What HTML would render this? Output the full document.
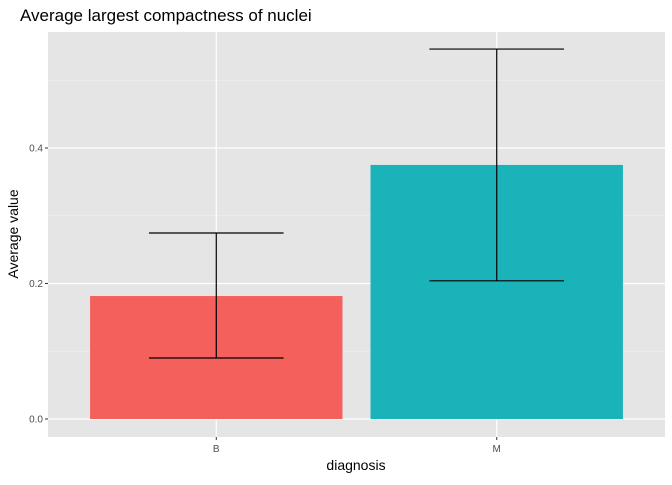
<!DOCTYPE html>
<html><head><meta charset="utf-8"><style>
body{margin:0;background:#fff;font-family:"Liberation Sans",Arial,sans-serif}
</style></head><body>
<svg id="chart" width="672" height="480" xmlns="http://www.w3.org/2000/svg">
<rect x="0" y="0" width="672" height="480" fill="#fff"/>
<text x="20" y="21" font-size="17" fill="#000">Average largest compactness of nuclei</text>
<rect x="48" y="32" width="617" height="405" fill="#e5e5e5"/>
<g id="grid"></g><g id="bars"></g><g id="errs"></g><g id="axes"></g>
<text x="356" y="470" font-size="14" text-anchor="middle" fill="#000">diagnosis</text>
<text transform="translate(18,234) rotate(-90)" font-size="14" text-anchor="middle" fill="#000">Average value</text>
</svg>
<script>
const categories=["B","M"];
const means=[0.1815,0.375];
const lowers=[0.090,0.204];
const uppers=[0.2745,0.546];
const colors=["#F4605C","#19B3B9"];
const yTicks=[0,0.2,0.4];
const yTickLabels=["0.0","0.2","0.4"];
const yMinor=[0.1,0.3,0.5];
const NS="http://www.w3.org/2000/svg";
const px0=48,px1=665,py0=437,py1=32;
function x(i){return px0+(i+1-0.4)/2.2*(px1-px0);}
const unit=(px1-px0)/2.2;
function y(v){return 419-v*677.5;}
function mk(t,a,p){const e=document.createElementNS(NS,t);for(const k in a)e.setAttribute(k,a[k]);p.appendChild(e);return e;}
const g=document.getElementById('grid'),b=document.getElementById('bars'),er=document.getElementById('errs'),ax=document.getElementById('axes');
yMinor.forEach(v=>{const l=mk('line',{x1:px0,x2:px1,y1:y(v),y2:y(v),stroke:'#f2f2f2','stroke-width':0.6},g);

});
yTicks.forEach((v,i)=>{const l=mk('line',{x1:px0,x2:px1,y1:y(v),y2:y(v),stroke:'#fff','stroke-width':1.2},g);


const t=mk('text',{x:43,y:y(v)+3.5,'font-size':10,'text-anchor':'end',fill:'#4d4d4d'},ax);t.textContent=yTickLabels[i];


const tk=mk('line',{x1:45,x2:48,y1:y(v),y2:y(v),stroke:'#333'},ax);

});
categories.forEach((c,i)=>{const l=mk('line',{x1:x(i),x2:x(i),y1:py1,y2:py0,stroke:'#fff','stroke-width':1.2},g);


const w=0.9*unit;
const r=mk('rect',{x:x(i)-w/2,y:y(means[i]),width:w,height:y(0)-y(means[i]),fill:colors[i]},b);


const cw=0.48*unit/2,st={stroke:'#000','stroke-width':1.2};
const e1=mk('line',Object.assign({x1:x(i),x2:x(i),y1:y(uppers[i]),y2:y(lowers[i])},st),er);


const e2=mk('line',Object.assign({x1:x(i)-cw,x2:x(i)+cw,y1:y(uppers[i]),y2:y(uppers[i])},st),er);


const e3=mk('line',Object.assign({x1:x(i)-cw,x2:x(i)+cw,y1:y(lowers[i]),y2:y(lowers[i])},st),er);


const tk=mk('line',{x1:x(i),x2:x(i),y1:py0,y2:py0+3,stroke:'#333'},ax);


const t=mk('text',{x:x(i),y:py0+15,'font-size':10,'text-anchor':'middle',fill:'#4d4d4d'},ax);t.textContent=c;

});
</script>
</body></html>
